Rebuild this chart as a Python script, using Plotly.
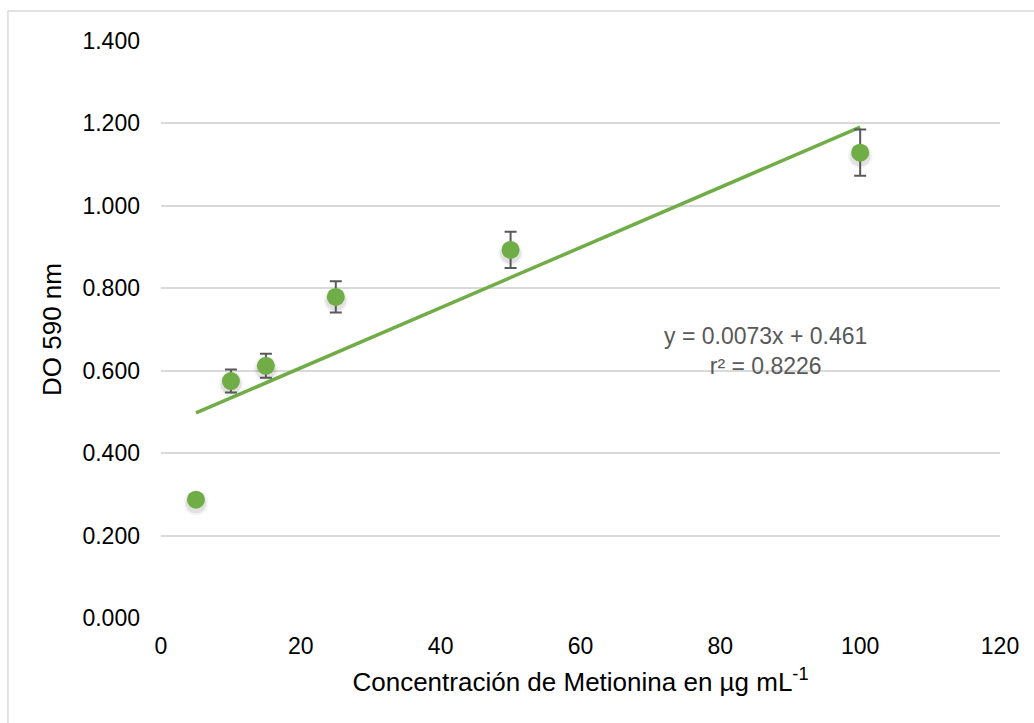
import plotly.graph_objects as go

# Methionine concentration (µg/mL) vs optical density at 590 nm
concentration = [5, 10, 15, 25, 50, 100]
od_590 = [0.287, 0.575, 0.612, 0.779, 0.893, 1.129]
od_error = [0.008, 0.028, 0.029, 0.038, 0.044, 0.056]

# Linear fit reported for the series
slope = 0.0073
intercept = 0.461
r_squared = 0.8226
fit_x = [5, 100]
fit_y = [slope * x + intercept for x in fit_x]

x_ticks = [0, 20, 40, 60, 80, 100, 120]
y_ticks = [0.0, 0.2, 0.4, 0.6, 0.8, 1.0, 1.2, 1.4]

GREEN = "#70AD47"
FONT = "Liberation Sans, Arial, sans-serif"

fig = go.Figure()

# trendline
fig.add_trace(go.Scatter(
    x=fit_x, y=fit_y, mode="lines",
    line=dict(color=GREEN, width=3.5),
    hoverinfo="skip", showlegend=False,
))

# soft drop shadow under the markers
for size, alpha in [(25, 0.04), (21, 0.08)]:
    fig.add_trace(go.Scatter(
        x=concentration, y=[v - 0.008 for v in od_590], mode="markers",
        marker=dict(size=size, color=f"rgba(0,0,0,{alpha})", line=dict(width=0)),
        hoverinfo="skip", showlegend=False,
    ))

# measured points with error bars
fig.add_trace(go.Scatter(
    x=concentration, y=od_590, mode="markers",
    marker=dict(size=18, color=GREEN, line=dict(width=0)),
    error_y=dict(type="data", array=od_error, visible=True,
                 color="#595959", thickness=2, width=6),
    showlegend=False,
))

fig.add_annotation(
    x=86.5, y=0.648, xref="x", yref="y",
    text=f"y = {slope}x + {intercept}<br>r² = {r_squared}",
    showarrow=False, align="center",
    font=dict(family=FONT, size=23, color="#595959"),
)

# chart area border (top and left edges visible)
fig.add_shape(type="line", xref="paper", yref="paper",
              x0=-0.1824, x1=1.06, y0=1.052, y1=1.052,
              line=dict(color="#D9D9D9", width=1.5))
fig.add_shape(type="line", xref="paper", yref="paper",
              x0=-0.1824, x1=-0.1824, y0=1.052, y1=-0.2,
              line=dict(color="#D9D9D9", width=1.5))

fig.update_layout(
    width=1034, height=723,
    margin=dict(l=161, r=34, t=41, b=105),
    paper_bgcolor="white", plot_bgcolor="white",
    font=dict(family=FONT, size=23, color="#000000"),
    xaxis=dict(
        range=[0, 120], tickvals=x_ticks, showgrid=False, zeroline=False,
        showline=False, ticks="", ticklabelstandoff=12,
        title=dict(text="Concentración de Metionina en µg mL<sup>-1</sup>",
                   font=dict(size=26), standoff=14),
    ),
    yaxis=dict(
        range=[0, 1.4], tickvals=y_ticks, tickformat=".3f",
        showgrid=True, gridcolor="#D9D9D9", gridwidth=1.5,
        zeroline=False, showline=False, ticks="", ticklabelstandoff=20,
        title=dict(text="DO 590 nm", font=dict(size=26), standoff=13),
    ),
)

fig.write_html("out.html")
